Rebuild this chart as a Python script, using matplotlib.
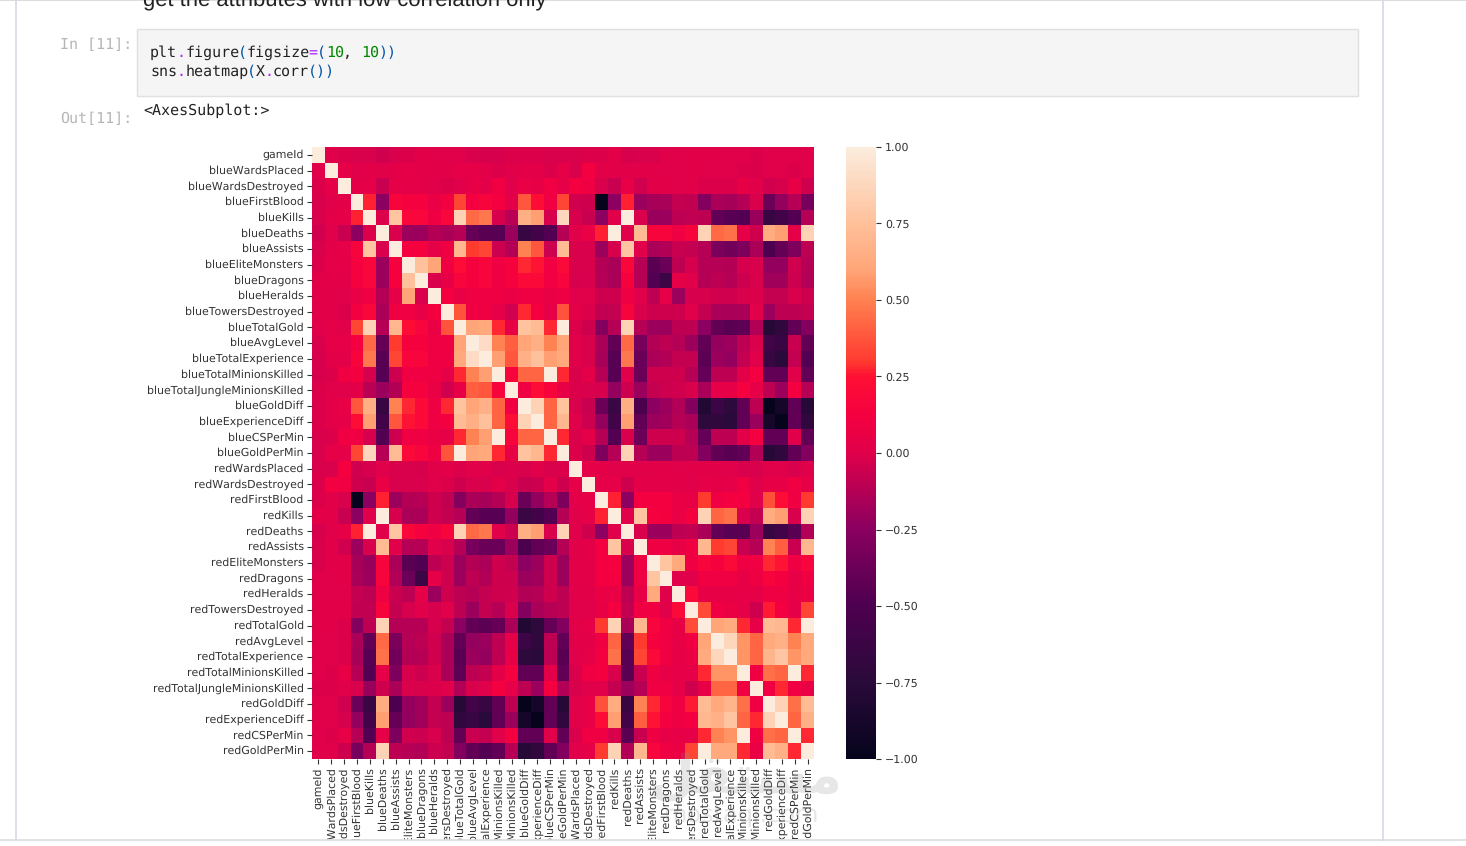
import numpy as np
import pandas as pd
import matplotlib
matplotlib.use("Agg")
import matplotlib.pyplot as plt
from matplotlib.colors import LinearSegmentedColormap
from matplotlib.patches import Rectangle
from matplotlib.ticker import FixedLocator, FuncFormatter
import seaborn as sns

plt.rcParams['text.hinting'] = 'no_hinting'
plt.rcParams['text.hinting_factor'] = 1

columns = ['gameId', 'blueWardsPlaced', 'blueWardsDestroyed', 'blueFirstBlood', 'blueKills',
           'blueDeaths', 'blueAssists', 'blueEliteMonsters', 'blueDragons', 'blueHeralds',
           'blueTowersDestroyed', 'blueTotalGold', 'blueAvgLevel', 'blueTotalExperience',
           'blueTotalMinionsKilled', 'blueTotalJungleMinionsKilled', 'blueGoldDiff',
           'blueExperienceDiff', 'blueCSPerMin', 'blueGoldPerMin', 'redWardsPlaced',
           'redWardsDestroyed', 'redFirstBlood', 'redKills', 'redDeaths', 'redAssists',
           'redEliteMonsters', 'redDragons', 'redHeralds', 'redTowersDestroyed', 'redTotalGold',
           'redAvgLevel', 'redTotalExperience', 'redTotalMinionsKilled',
           'redTotalJungleMinionsKilled', 'redGoldDiff', 'redExperienceDiff', 'redCSPerMin',
           'redGoldPerMin']

# upper triangle of the correlation matrix, in hundredths, each row starts after the diagonal
upper = [
    [0, -1, -2, -2, -4, -2, -1, 1, 0, 0, 0, -2, -3, -3, -1, -1, -1, -2, -2, -2, -1, -1, 2, -3, -2, -2, 0, 0, 1, 1, 0, 0, 0, -1, 0, 0, 0, 0],
    [3, 0, 2, 0, 2, 3, 2, 1, 1, 3, 3, 2, -1, 0, 2, 2, -1, 3, -2, 12, 1, 1, 0, 1, 1, 0, 0, 1, 0, 0, 0, -1, -1, 0, 0, -1, 0],
    [2, 3, -7, 3, 2, 2, 0, -1, 0, 4, 2, 10, 0, 6, 5, 10, 3, 12, 10, -2, -7, 5, -4, 1, 1, 0, 1, -1, -1, -1, 4, 0, -4, -3, 4, -5],
    [27, -25, 15, 13, 13, 6, 11, 33, 12, 15, 12, 2, 38, 22, 10, 33, -4, -5, -100, -25, 27, -20, -17, -16, -8, -9, -28, -15, -17, -12, -2, -38, -22, -12, -33],
    [-1, 77, 18, 17, 8, 18, 85, 43, 47, -3, -11, 65, 58, -3, 88, -3, -7, -25, 0, 100, -2, -21, -20, -10, -9, -10, -42, -46, -47, -21, -65, -58, -47, -12],
    [-2, -20, -20, -13, -15, -12, -40, -45, -46, -20, -65, -58, -47, -12, 0, 6, 27, 100, 0, 72, 15, 15, 8, 15, 85, 43, 46, 3, -5, 64, 58, 3, 85],
    [13, 14, 3, 9, 70, 30, 33, -6, -13, 50, 38, -6, 72, -2, -2, -20, -3, 78, 0, -15, -14, -7, -8, -12, -32, -35, -30, -15, -50, -40, -30, -10],
    [75, 60, 10, 22, 14, 16, 10, 14, 28, 25, 10, 20, -2, -2, -13, -15, 18, -12, -45, -38, -10, -3, -12, -12, -13, -3, -2, -22, -22, -4, -12],
    [-2, 4, 16, 14, 16, 10, 14, 20, 20, 10, 16, -3, -2, -12, -15, 14, -12, -48, -62, 3, 0, -12, -10, -12, -6, -2, -18, -18, -6, -14],
    [12, 6, 8, 8, 8, 6, 8, 8, 6, 8, 0, 0, -5, -5, 8, 0, -10, 3, -20, -3, -3, -4, -4, -2, -1, -8, -8, -2, -6],
    [37, 8, 8, 3, -4, 28, 12, 3, 37, 2, -1, -9, -8, 15, -2, -6, -5, -5, 0, -8, -15, -15, -15, 0, -20, -10, -10, -8],
    [60, 62, 28, 5, 76, 72, 28, 100, -1, -5, -28, -12, 85, -12, -20, -20, -10, -10, -25, -42, -45, -43, -14, -78, -70, -42, -28],
    [90, 50, 40, 60, 65, 50, 60, 0, -2, -15, -42, 43, -33, -13, -10, -12, -20, -42, -22, -20, -10, -2, -60, -65, -7, -42],
    [58, 38, 66, 75, 58, 62, 0, -2, -17, -46, 47, -38, -15, -14, -8, -8, -44, -20, -22, -8, 0, -65, -75, -8, -47],
    [15, 42, 42, 100, 28, -2, 2, -12, -46, 0, -38, -5, -5, -5, -12, -40, -10, -10, 2, 12, -42, -42, 0, -42],
    [10, 22, 15, 5, -1, -2, -3, -22, -6, -20, -8, -6, -4, -2, -15, 3, 4, 13, 3, -10, -20, 12, -12],
    [85, 42, 76, -2, -7, -38, -64, 65, -52, -25, -20, -14, -28, -80, -62, -72, -42, -10, -100, -88, -42, -78],
    [42, 70, 0, -6, -22, -58, 58, -42, -20, -18, -12, -15, -72, -70, -75, -42, -20, -88, -100, -42, -70],
    [28, -2, 2, -12, -47, -2, -38, -5, -5, -5, -12, -40, -10, -10, 2, 12, -42, -42, 0, -42],
    [-1, -5, -30, -12, 85, -12, -20, -20, -10, -10, -28, -42, -45, -42, -14, -78, -70, -42, -28],
    [3, 2, 0, 0, 0, 1, 1, 0, 0, 1, 1, 0, -2, -2, 0, 0, -2, 0],
    [3, 3, -5, 2, 2, 2, 1, 0, 3, 2, 3, 10, 0, 5, 5, 10, 3],
    [27, -25, 12, 12, 12, 6, 5, 30, 10, 12, 12, 0, 36, 22, 10, 30],
    [0, 77, 13, 12, 6, 12, 85, 42, 46, -2, -8, 64, 58, -2, 85],
    [-2, -20, -20, -10, -9, -15, -42, -46, -45, -20, -65, -58, -45, -14],
    [8, 8, 5, 10, 70, 30, 33, -7, -12, 50, 40, -7, 70],
    [77, 62, 10, 16, 14, 20, 8, 10, 28, 25, 8, 16],
    [0, 0, 10, 10, 10, 5, 8, 15, 12, 5, 10],
    [20, 5, 5, 5, 4, 3, 8, 8, 4, 7],
    [35, 10, 7, 3, -5, 26, 12, 3, 33],
    [60, 63, 28, 5, 72, 70, 28, 100],
    [87, 55, 42, 62, 66, 50, 62],
    [55, 42, 68, 78, 55, 62],
    [10, 45, 42, 100, 28],
    [10, 28, 10, 6],
    [85, 45, 72],
    [42, 66],
    [28],
]

colorbar_ticks = [-1.0, -0.75, -0.5, -0.25, 0.0, 0.25, 0.5, 0.75, 1.0]

n = len(columns)
corr = np.eye(n)
for i, row in enumerate(upper):
    for k, v in enumerate(row):
        corr[i, i + 1 + k] = v / 100
        corr[i + 1 + k, i] = v / 100
corr = pd.DataFrame(corr, index=columns, columns=columns)

W, H = 1466, 846
fig = plt.figure(figsize=(W / 100, H / 100), dpi=100, facecolor='white')


def box(left, top, right, bottom):
    return [left / W, 1 - bottom / H, (right - left) / W, (bottom - top) / H]


# rocket as it looks in the screenshot, colours taken from the colorbar
cmap = LinearSegmentedColormap.from_list('shot', [
    (0.0, '#05041c'), (0.125, '#2a0a3a'), (0.25, '#4e0050'), (0.375, '#8a0060'),
    (0.5, '#e0004a'), (0.56, '#f40040'), (0.625, '#ff0f34'), (0.65, '#ff3a30'),
    (0.75, '#ff8050'), (0.8, '#ffa578'), (0.875, '#ffc09a'), (1.0, '#fbecdd')])

ax = fig.add_axes(box(312, 147, 814, 759))
cax = fig.add_axes(box(846, 147, 876, 759))
sns.heatmap(corr, ax=ax, cbar_ax=cax, cmap=cmap, vmin=-1, vmax=1,
            xticklabels=True, yticklabels=True)
ax.tick_params(axis='both', labelsize=8.1, length=3.5, width=0.8, pad=2.5, colors='#333333')
plt.setp(ax.get_xticklabels(), rotation=90)
plt.setp(ax.get_yticklabels(), rotation=0)

cax.yaxis.set_major_locator(FixedLocator(colorbar_ticks))
cax.yaxis.set_major_formatter(FuncFormatter(lambda v, p: ('%.2f' % v).replace('-', '\u2212')))
cax.tick_params(labelsize=8.1, length=3.5, width=0.8, pad=3, colors='#333333')

# notebook page around the chart, everything here in pixel positions
page = fig.add_axes([0, 0, 1, 1], zorder=5)
page.set_xlim(0, W)
page.set_ylim(H, 0)
page.axis('off')
page.patch.set_alpha(0)

# watermark over the lower right of the chart
page.text(745, 778, '\uFEDE\uFED8\uFE98\uFEB4\uFEE3', family='DejaVu Sans', fontsize=38,
          fontweight='bold', color='#888888', alpha=0.2, ha='center', va='center', zorder=1)
page.text(742, 815, 'mostaql.com', family='DejaVu Sans', fontsize=17,
          color='#888888', alpha=0.2, ha='center', va='center', zorder=1)

page.add_patch(Rectangle((0, 840), W, 6, color='white', zorder=2))
page.plot([0, W], [0.5, 0.5], color='#dddddd', lw=1.5, zorder=3)
page.plot([0, W], [840.5, 840.5], color='#dddddd', lw=1.2, zorder=3)
page.plot([16, 16], [0, 840], color='#d5d8e4', lw=1.2, zorder=3)
page.plot([1383, 1383], [0, 840], color='#d5d8e4', lw=1.2, zorder=3)
page.add_patch(Rectangle((137, 29.5), 1220.5, 67, facecolor='#f5f5f5', edgecolor='#e0e0e0', lw=1))

page.text(143, 0.5, 'get the attributes with low correlation only', family='Liberation Sans',
          fontsize=16.2, color='#222222', va='center', ha='left')

mono = dict(family='DejaVu Sans Mono', fontsize=10.5, va='center', ha='left')
page.text(60, 45, 'In [11]:', color='#b5b5b5', **mono)
page.text(60, 119, 'Out[11]:', color='#b5b5b5', **mono)
page.text(143, 111, '<AxesSubplot:>', color='#222222', **mono)

char_w = 8.79
code_lines = [
    (53, [('plt', '#222222'), ('.', '#aa22ff'), ('figure', '#222222'), ('(', '#0055aa'), ('figsize', '#222222'),
          ('=', '#aa22ff'), ('(', '#0055aa'), ('10', '#008800'), (', ', '#222222'), ('10', '#008800'), ('))', '#0055aa')]),
    (72, [('sns', '#222222'), ('.', '#aa22ff'), ('heatmap', '#222222'), ('(', '#0055aa'), ('X', '#222222'),
          ('.', '#aa22ff'), ('corr', '#222222'), ('())', '#0055aa')]),
]
for y, parts in code_lines:
    i = 0
    for s, c in parts:
        page.text(150 + i * char_w, y, s, color=c, **mono)
        i += len(s)

fig.savefig('out.png', dpi=100, facecolor='white')
